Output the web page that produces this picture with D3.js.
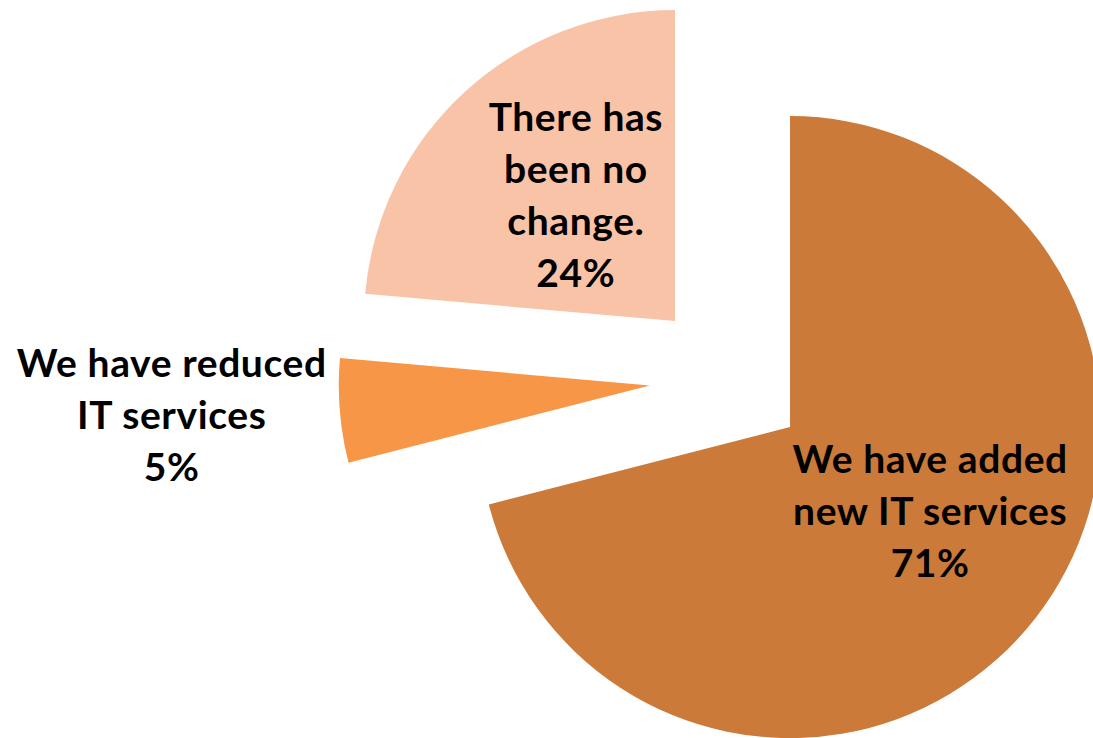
<!DOCTYPE html>
<html>
<head>
<meta charset="utf-8">
<script src="https://cdn.jsdelivr.net/npm/d3@7"></script>
<style>
  html, body { margin: 0; padding: 0; background: #fff; overflow: hidden; }
  svg { display: block; }
  .etiqueta { font-family: Lato, "Open Sans", sans-serif; font-weight: bold; fill: #000; letter-spacing: 0.6px; }
</style>
</head>
<body>
<script>
// datos del grafico
var categorias = [
  ["We have added", "new IT services"],
  ["We have reduced", "IT services"],
  ["There has", "been no", "change."]
];
// valores (las etiquetas los muestran redondeados)
var valores = [71, 5.4, 23.6];
var colores = ["#CB7A3A", "#F79646", "#F9C3A8"];

var w = 1093;
var h = 738;

// centro del pie, radio y separacion de las porciones
var centro = { x: 728, y: 379 };
var radio = 311;
var separacion = 78.5;
var interlineado = 52;

// donde va cada etiqueta (distancia desde la punta y giro en grados)
var posEtiquetas = [
  { radio: 164, giro: -6.5 },
  { radio: 479, giro: 1.0 },
  { radio: 160, giro: 4.2 }
];

var svg = d3.select("body")
            .append("svg")
            .attr("width", w)
            .attr("height", h);

var pie = d3.pie().sort(null).value(function (d) { return d; });
var arco = d3.arc().innerRadius(0).outerRadius(radio);

var porciones = pie(valores);

function polar(ang, r) {
    return [r * Math.sin(ang), -r * Math.cos(ang)];
}

var grupos = svg.selectAll("g.porcion")
    .data(porciones)
    .enter()
    .append("g")
    .attr("class", "porcion")
    .attr("transform", function (d) {
        var medio = (d.startAngle + d.endAngle) / 2;
        var p = polar(medio, separacion);
        return "translate(" + (centro.x + p[0]) + "," + (centro.y + p[1]) + ")";
    });

grupos.append("path")
    .attr("d", arco)
    .attr("fill", function (d, i) { return colores[i]; });

// etiquetas
grupos.each(function (d, i) {
    var medio = (d.startAngle + d.endAngle) / 2 + posEtiquetas[i].giro * Math.PI / 180;
    var p = polar(medio, posEtiquetas[i].radio);
    var lineas = categorias[i].concat([Math.round(valores[i]) + "%"]);
    var n = lineas.length;
    var texto = d3.select(this).append("text")
        .attr("class", "etiqueta")
        .attr("text-anchor", "middle")
        .style("font-size", "39px");
    lineas.forEach(function (l, k) {
        texto.append("tspan")
            .attr("x", p[0])
            .attr("y", p[1] + (k - (n - 1) / 2) * interlineado + 13)
            .text(l);
    });
});
</script>
</body>
</html>
